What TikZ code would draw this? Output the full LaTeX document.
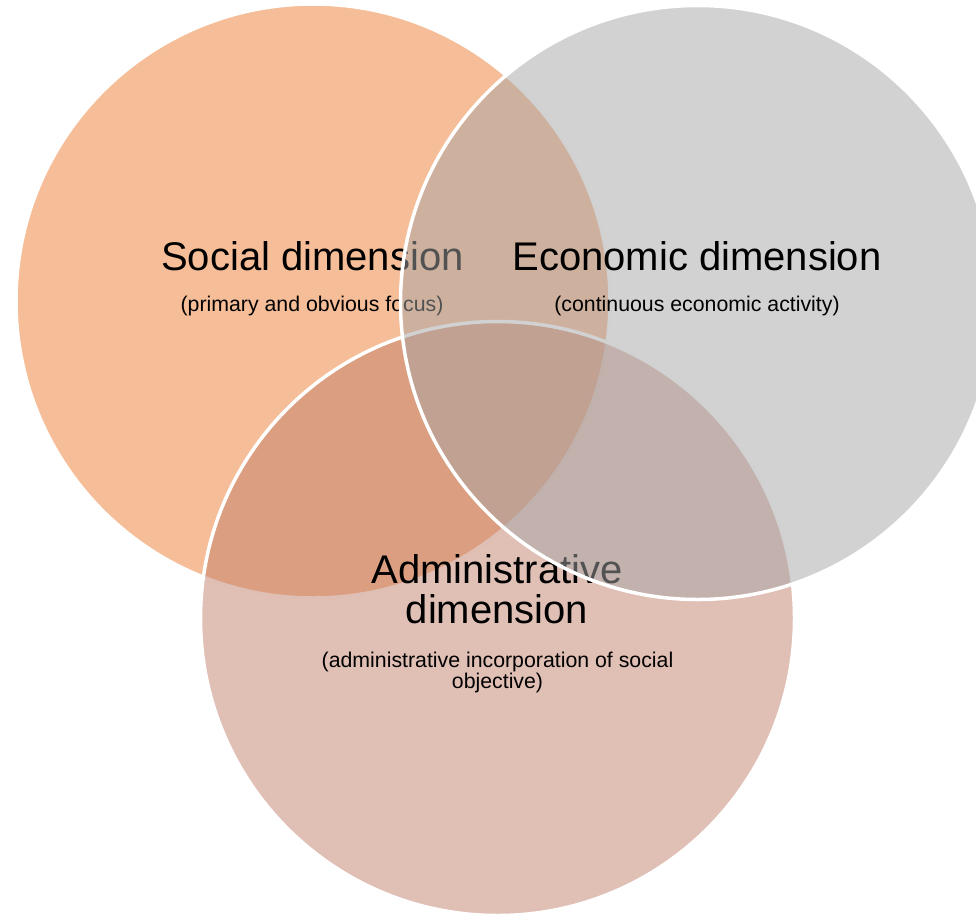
\documentclass[tikz,border=0pt]{standalone}
\usepackage{fontspec}
\setmainfont{Liberation Sans}
\definecolor{socialc}{HTML}{ED7D31}
\definecolor{econc}{HTML}{A5A5A5}
\definecolor{adminc}{HTML}{C17F6B}
\begin{document}
\begin{tikzpicture}[x=1pt,y=-1pt,
  venn/.style={circle, minimum size=594pt, inner sep=0pt, outer sep=0pt, draw=white, line width=3.5pt, fill opacity=0.5, draw opacity=1},
  titletext/.style={anchor=base, inner sep=0pt, font=\fontsize{40}{40}\selectfont, text=black},
  subtext/.style={anchor=base, inner sep=0pt, font=\fontsize{21.3}{21.3}\selectfont, text=black}]
\useasboundingbox (0,0) rectangle (976,915);
% social
\node[venn, fill=socialc] (social) at (313,301) {};
\node[titletext] (socialT) at (312.5,270) {Social dimension};
\node[subtext] (socialS) at (312,311) {(primary and obvious focus)};
% administrative
\node[venn, fill=adminc] (admin) at (497.5,618.5) {};
\node[titletext] (adminT1) at (497,583) {Administrative};
\node[titletext] (adminT2) at (497,623) {dimension};
\node[subtext] (adminS1) at (497.5,667) {(administrative incorporation of social};
\node[subtext] (adminS2) at (497.5,688) {objective)};
% economic
\node[venn, fill=econc] (econ) at (697.5,302.5) {};
\node[titletext] (econT) at (697,270) {Economic dimension};
\node[subtext] (econS) at (697,311) {(continuous economic activity)};
\end{tikzpicture}
\end{document}
